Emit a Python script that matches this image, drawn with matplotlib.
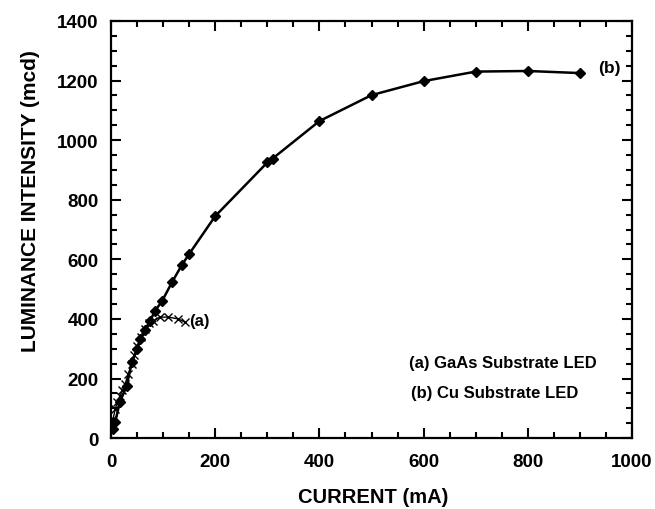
import matplotlib
matplotlib.use("Agg")
import matplotlib.pyplot as plt
from matplotlib.ticker import MultipleLocator

# (b) Cu substrate LED
cu_current = [4, 8, 17, 30, 40, 50, 56, 65, 75, 84, 98, 117, 136, 150, 200, 300, 310, 400, 500, 600, 700, 800, 900]
cu_lum = [30, 54, 121, 175, 255, 298, 332, 362, 393, 426, 460, 523, 581, 618, 745, 925, 938, 1064, 1151, 1198, 1230, 1232, 1225]

# (a) GaAs substrate LED
gaas_current = [2, 4, 8, 12, 17, 22, 27, 33, 40, 45, 50, 58, 65, 72, 81, 94, 110, 129, 142]
gaas_lum = [40, 64, 97, 120, 141, 160, 181, 215, 248, 280, 309, 340, 366, 385, 393, 406, 406, 400, 389]

legend_lines = ["(a) GaAs Substrate LED", "(b) Cu Substrate LED"]

plt.rcParams['font.family'] = ['Liberation Sans', 'DejaVu Sans']
plt.rcParams['font.weight'] = 'bold'

fig = plt.figure(figsize=(6.55, 5.10), dpi=100)
ax = fig.add_axes([0.1695, 0.139, 0.7955, 0.818])

ax.plot(cu_current, cu_lum, color='black', lw=1.8, marker='D', ms=5)
ax.plot(gaas_current, gaas_lum, color='black', lw=1.0, marker='x', ms=6, mew=1.0)

ax.text(150, 396, "(a)", fontsize=12, fontweight='bold', va='center', ha='left')
ax.text(935, 1245, "(b)", fontsize=12.5, fontweight='bold', va='center', ha='left')
ax.text(572, 255, legend_lines[0], fontsize=12, fontweight='bold', va='center', ha='left')
ax.text(576, 154, legend_lines[1], fontsize=12, fontweight='bold', va='center', ha='left')

ax.set_xlim(0, 1000)
ax.set_ylim(0, 1400)
ax.xaxis.set_major_locator(MultipleLocator(200))
ax.xaxis.set_minor_locator(MultipleLocator(50))
ax.yaxis.set_major_locator(MultipleLocator(200))
ax.yaxis.set_minor_locator(MultipleLocator(50))
ax.tick_params(which='both', direction='in', top=True, right=True, width=1.5)
ax.tick_params(which='major', length=7, labelsize=13.5)
ax.tick_params(which='minor', length=4)
ax.tick_params(axis='x', which='major', pad=11)
ax.tick_params(axis='y', which='major', pad=9)
for lab in ax.get_xticklabels() + ax.get_yticklabels():
    lab.set_fontweight('bold')
for sp in ax.spines.values():
    sp.set_linewidth(1.6)

ax.set_xlabel("CURRENT (mA)", fontsize=14.5, fontweight='bold')
ax.set_ylabel("LUMINANCE INTENSITY (mcd)", fontsize=15, fontweight='bold')
ax.xaxis.set_label_coords(0.504, -0.117)
ax.yaxis.set_label_coords(-0.137, 0.57)

fig.savefig("out.png", dpi=100)
